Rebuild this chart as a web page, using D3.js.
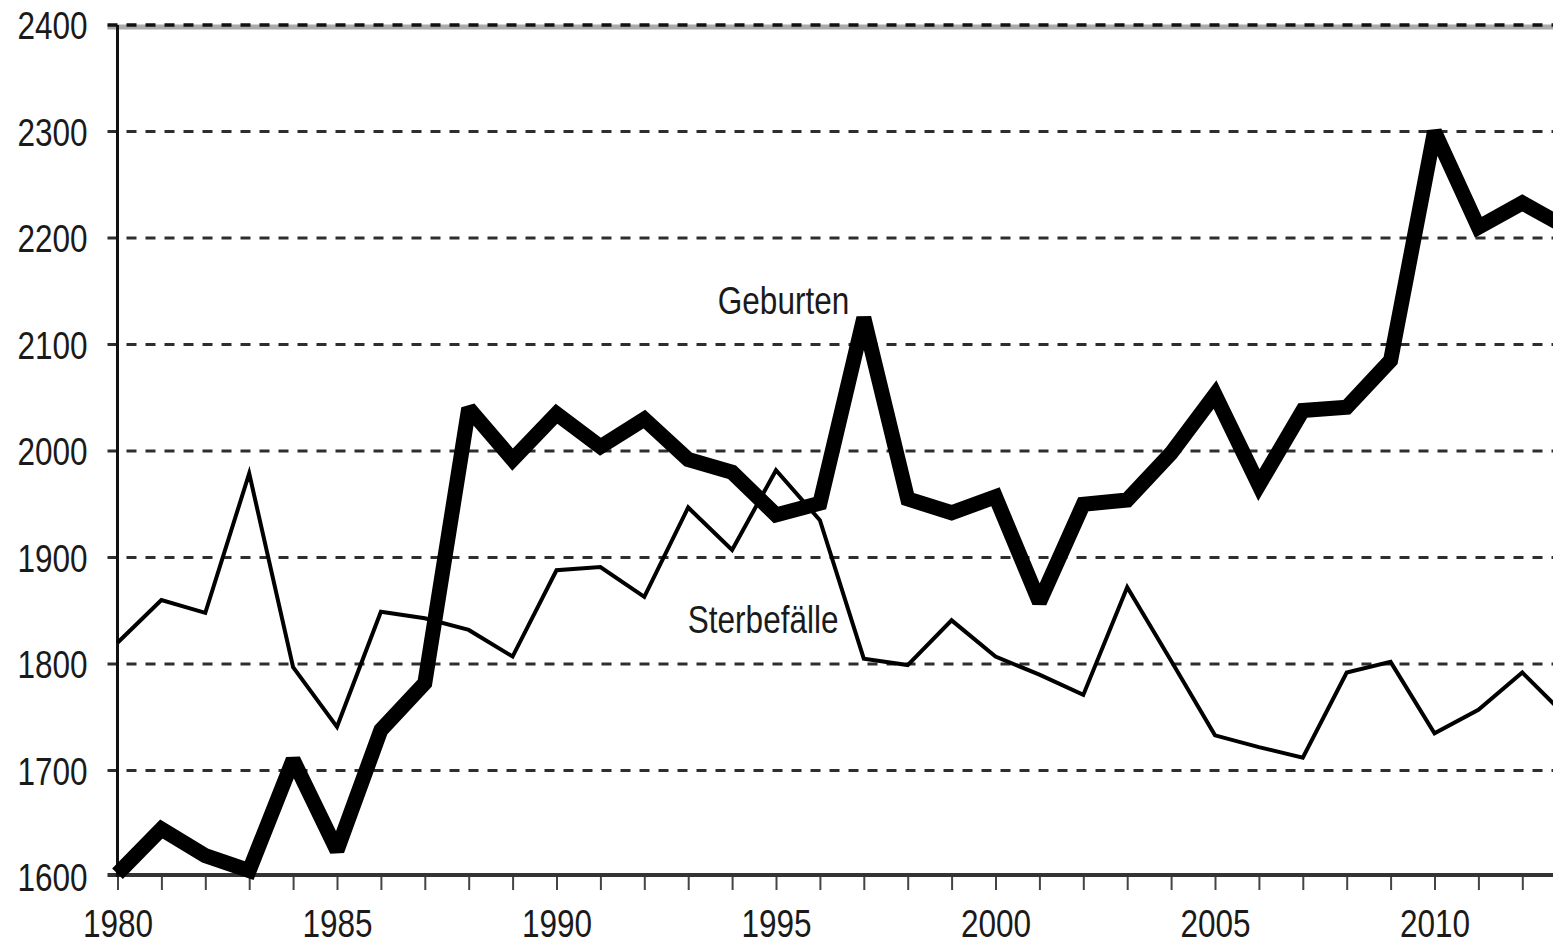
<!DOCTYPE html>
<html>
<head>
<meta charset="utf-8">
<script src="https://cdn.jsdelivr.net/npm/d3@7"></script>
<style>
  body { margin: 0; background: #fff; }
  svg { display: block; }
  .axisText { font-family: "Liberation Sans", Arial, sans-serif; font-size: 38px; fill: #1a1a1a; }
</style>
</head>
<body>
<div class="chart"></div>
<script>
// data
var years = [1980, 1981, 1982, 1983, 1984, 1985, 1986, 1987, 1988, 1989,
             1990, 1991, 1992, 1993, 1994, 1995, 1996, 1997, 1998, 1999,
             2000, 2001, 2002, 2003, 2004, 2005, 2006, 2007, 2008, 2009,
             2010, 2011, 2012, 2013];

var geburten = [1603, 1645, 1620, 1606, 1710, 1625, 1738, 1782, 2040, 1992,
                2035, 2004, 2030, 1992, 1980, 1940, 1951, 2125, 1955, 1942,
                1957, 1858, 1950, 1954, 1998, 2053, 1968, 2038, 2041, 2085,
                2300, 2210, 2233, 2210];

var sterbefaelle = [1820, 1860, 1848, 1979, 1797, 1741, 1849, 1843, 1832, 1807,
                    1888, 1891, 1863, 1947, 1907, 1982, 1935, 1805, 1799, 1841,
                    1807, 1790, 1771, 1872, 1803, 1733, 1722, 1712, 1792, 1802,
                    1735, 1757, 1792, 1751];

var yTicks = [1600, 1700, 1800, 1900, 2000, 2100, 2200, 2300, 2400];
var xLabels = [1980, 1985, 1990, 1995, 2000, 2005, 2010];

var svgWidth = 1553;
var svgHeight = 946;

var margin = { top: 25, left: 117.5, bottom: 69 };
var height = svgHeight - margin.top - margin.bottom;
var pxPerYear = 43.9;
var squeeze = "scale(0.83,1)";

var svg = d3.select(".chart")
  .append("svg")
  .attr("width", svgWidth)
  .attr("height", svgHeight);

var chartGroup = svg.append("g")
  .attr("transform", `translate(${margin.left}, ${margin.top})`);

// scales
var xScale = d3.scaleLinear()
  .domain([1980, 2013])
  .range([0, 33 * pxPerYear]);

var yScale = d3.scaleLinear()
  .domain([1600, 2400])
  .range([height, 0]);

var gridRight = svgWidth - margin.left;

// top border (grey under the dashed 2400 line)
chartGroup.append("line")
  .attr("x1", -10).attr("x2", gridRight)
  .attr("y1", yScale(2400) + 2).attr("y2", yScale(2400) + 2)
  .attr("stroke", "#aaa")
  .attr("stroke-width", 5);

// dashed grid lines
chartGroup.append("g")
  .selectAll("line")
  .data(yTicks.filter(d => d > 1600))
  .enter()
  .append("line")
  .attr("x1", -10)
  .attr("x2", gridRight)
  .attr("y1", d => yScale(d))
  .attr("y2", d => yScale(d))
  .attr("stroke", d => d == 2400 ? "#111" : "#2e2e2e")
  .attr("stroke-width", d => d == 2400 ? 3.5 : 2.8)
  .attr("stroke-dasharray", "10,9");

// x axis: tick every year, label every 5 years
var bottomAxis = d3.axisBottom(xScale)
  .tickValues(years)
  .tickSize(13)
  .tickSizeOuter(0)
  .tickFormat(d => xLabels.indexOf(d) >= 0 ? d : "");

var xAxisG = chartGroup.append("g")
  .attr("transform", `translate(0, ${height})`)
  .call(bottomAxis);

xAxisG.select(".domain").remove();
xAxisG.selectAll(".tick line")
  .attr("stroke", "#444")
  .attr("stroke-width", 2);
xAxisG.selectAll(".tick text")
  .attr("class", "axisText")
  .attr("y", 60)
  .attr("dy", 0)
  .attr("transform", squeeze);

// x axis base line
chartGroup.append("line")
  .attr("x1", -10).attr("x2", gridRight)
  .attr("y1", height - 2).attr("y2", height - 2)
  .attr("stroke", "#333")
  .attr("stroke-width", 4);

// y axis
var leftAxis = d3.axisLeft(yScale)
  .tickValues(yTicks)
  .tickSize(0)
  .tickFormat(d3.format("d"));

var yAxisG = chartGroup.append("g")
  .call(leftAxis);

yAxisG.select(".domain").remove();
yAxisG.selectAll(".tick text")
  .attr("class", "axisText")
  .attr("x", -36)
  .attr("dy", "0.36em")
  .attr("transform", squeeze);

chartGroup.append("line")
  .attr("x1", 0).attr("x2", 0)
  .attr("y1", yScale(2400)).attr("y2", height)
  .attr("stroke", "#111")
  .attr("stroke-width", 3);

// lines
var lineGen = function(values) {
  return d3.line()
    .x((d, i) => xScale(years[i]))
    .y(d => yScale(d))(values);
};

chartGroup.append("path")
  .attr("d", lineGen(sterbefaelle))
  .attr("fill", "none")
  .attr("stroke", "#000")
  .attr("stroke-width", 4)
  .attr("stroke-linejoin", "miter");

chartGroup.append("path")
  .attr("d", lineGen(geburten))
  .attr("fill", "none")
  .attr("stroke", "#000")
  .attr("stroke-width", 15)
  .attr("stroke-linejoin", "miter")
  .attr("stroke-miterlimit", 2.2);

// series labels
chartGroup.append("text")
  .attr("class", "axisText")
  .attr("transform", `translate(${xScale(1997) - 146}, ${yScale(2129)}) ${squeeze}`)
  .text("Geburten");

chartGroup.append("text")
  .attr("class", "axisText")
  .attr("transform", `translate(${xScale(1997) - 176}, ${yScale(1829)}) ${squeeze}`)
  .text("Sterbefälle");
</script>
</body>
</html>
